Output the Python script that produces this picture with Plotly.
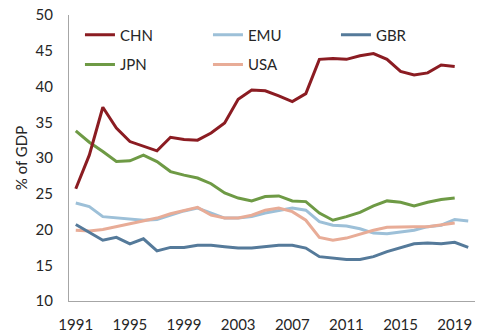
import plotly.graph_objects as go

years = [str(y) for y in range(1991, 2021)]
tick_years = [str(y) for y in range(1991, 2020, 4)]

chn = [25.7, 30.4, 37.1, 34.2, 32.3, 31.7, 31.0, 32.9, 32.6, 32.5, 33.5, 34.9, 38.2, 39.5, 39.4,
       38.7, 37.9, 39.0, 43.8, 43.9, 43.8, 44.3, 44.6, 43.8, 42.1, 41.6, 41.9, 43.0, 42.8]
jpn = [33.8, 32.2, 30.9, 29.5, 29.6, 30.4, 29.5, 28.1, 27.6, 27.2, 26.4, 25.1, 24.4, 24.0, 24.6,
       24.7, 24.0, 23.9, 22.3, 21.3, 21.8, 22.4, 23.3, 24.0, 23.8, 23.3, 23.8, 24.2, 24.4]
emu = [23.7, 23.2, 21.8, 21.6, 21.5, 21.3, 21.4, 22.0, 22.6, 23.0, 22.3, 21.6, 21.6, 21.8, 22.3,
       22.7, 23.0, 22.7, 21.1, 20.6, 20.5, 20.1, 19.5, 19.4, 19.7, 19.9, 20.4, 20.6, 21.4, 21.2]
usa = [19.9, 19.8, 20.0, 20.4, 20.8, 21.2, 21.6, 22.2, 22.7, 23.1, 22.0, 21.6, 21.6, 22.0, 22.7,
       23.0, 22.5, 21.3, 18.9, 18.5, 18.8, 19.4, 19.9, 20.3, 20.4, 20.4, 20.4, 20.7, 20.9]
gbr = [20.7, 19.6, 18.5, 18.9, 18.0, 18.7, 17.0, 17.5, 17.5, 17.8, 17.8, 17.6, 17.4, 17.4, 17.6,
       17.8, 17.8, 17.4, 16.2, 16.0, 15.8, 15.8, 16.2, 16.9, 17.5, 18.0, 18.1, 18.0, 18.2, 17.5]

series = [
    ("JPN", jpn, "#6E9A45", "legend2"),
    ("EMU", emu, "#9DC0D8", "legend"),
    ("USA", usa, "#E8AC97", "legend2"),
    ("GBR", gbr, "#557A9A", "legend"),
    ("CHN", chn, "#8B1C22", "legend"),
]
legend_rank = {"CHN": 1, "EMU": 2, "GBR": 3, "JPN": 1, "USA": 2}

fig = go.Figure()
for name, vals, color, lg in series:
    fig.add_trace(go.Scatter(
        x=years[:len(vals)], y=vals, name=name, mode="lines",
        line=dict(color=color, width=3), legend=lg,
        legendrank=legend_rank[name],
    ))

font = dict(family="Lato, Open Sans, sans-serif", size=15, color="#262626")
legend_common = dict(orientation="h", xanchor="left", yanchor="middle",
                     bgcolor="rgba(0,0,0,0)", font=font,
                     entrywidth=83, entrywidthmode="pixels",
                     traceorder="normal")

fig.update_layout(
    width=500, height=335,
    margin=dict(l=69, r=25, t=15, b=34, autoexpand=False),
    paper_bgcolor="white", plot_bgcolor="white",
    font=font,
    showlegend=True,
    legend=dict(x=0.027, y=0.93, **legend_common),
    legend2=dict(x=0.027, y=0.826, **legend_common),
    xaxis=dict(
        type="category", categoryorder="array", categoryarray=years,
        range=[-0.5, len(years) - 0.5], automargin=False,
        tickmode="array", tickvals=tick_years, ticktext=tick_years,
        showgrid=False, showline=True, linecolor="#A6A6A6", linewidth=1,
        ticks="", ticklabelstandoff=10, tickfont=font,
    ),
    yaxis=dict(
        range=[10, 50], tickmode="linear", tick0=10, dtick=5, automargin=False,
        showgrid=False, showline=True, linecolor="#A6A6A6", linewidth=1,
        ticks="", ticklabelstandoff=12, tickfont=font, zeroline=False,
        title=dict(text="% of GDP", font=font, standoff=4),
    ),
)

fig.write_html("out.html")
